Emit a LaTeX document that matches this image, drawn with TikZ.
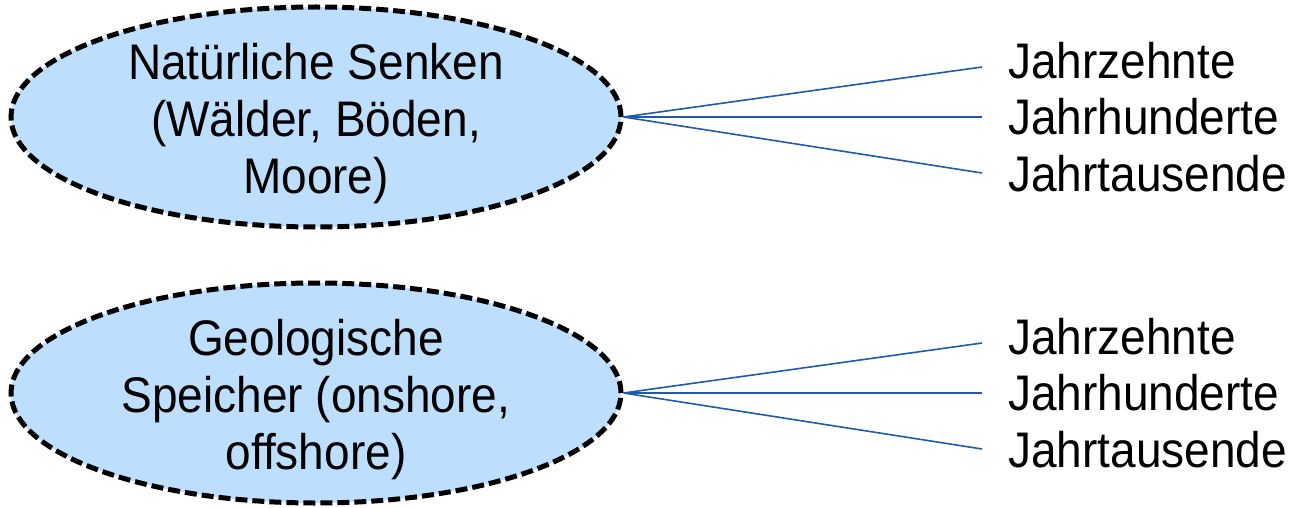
\documentclass[tikz,border=0pt]{standalone}
\usepackage{fontspec}
\setmainfont[FakeStretch=0.92]{Liberation Sans}
\usetikzlibrary{shapes.geometric}
\definecolor{fillblue}{RGB}{189,223,253}
\definecolor{lineblue}{RGB}{30,92,168}
\newcommand{\ltext}[1]{\smash{\raisebox{-14pt}{\begin{tabular}{@{}c@{}}#1\end{tabular}}}}
\begin{document}
\begin{tikzpicture}[x=1pt,y=-1pt,
  sink/.style={ellipse,draw=black,fill=fillblue,line width=5pt,dash pattern=on 12pt off 5pt,
    minimum width=610pt,minimum height=220pt,inner sep=0pt,
    font=\fontsize{50}{57}\selectfont},
  timelbl/.style={anchor=west,inner sep=0pt,font=\fontsize{50}{57}\selectfont},
  conn/.style={draw=lineblue,line width=1.6pt}]
\useasboundingbox (0,0) rectangle (1289,508);
\node[sink] (n1) at (316,117) {\ltext{Natürliche Senken\\(Wälder, Böden,\\Moore)}};
\node[sink] (n2) at (316,393) {\ltext{Geologische\\Speicher (onshore,\\offshore)}};
\foreach \i/\y in {1/117,2/393}{
  \coordinate (a\i) at (982,\y-50);
  \coordinate (b\i) at (982,\y);
  \coordinate (c\i) at (982,\y+56);
  \node[timelbl] (ta\i) at (1008,\y-56) {Jahrzehnte};
  \node[timelbl] (tb\i) at (1008,\y) {Jahrhunderte};
  \node[timelbl] (tc\i) at (1008,\y+57) {Jahrtausende};
  \draw[conn] (n\i.east) -- (a\i);
  \draw[conn] (n\i.east) -- (b\i);
  \draw[conn] (n\i.east) -- (c\i);
}
\end{tikzpicture}
\end{document}
